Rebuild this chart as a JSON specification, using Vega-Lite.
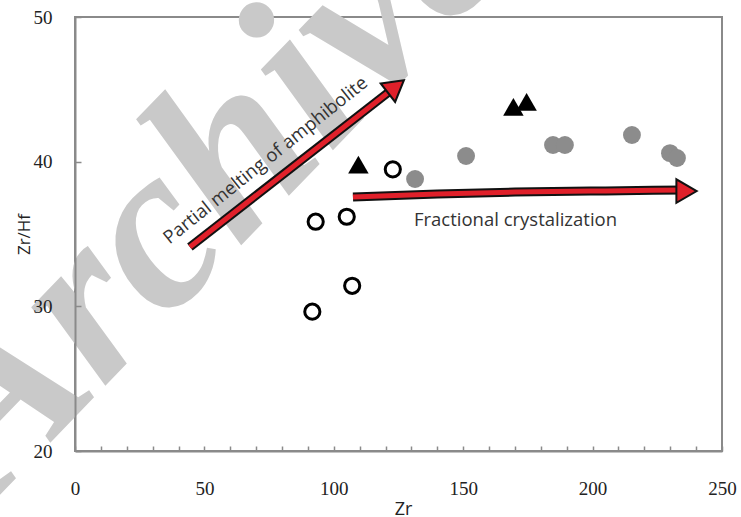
{
  "$schema": "https://vega.github.io/schema/vega-lite/v6.json",
  "autosize": {"type": "none"},
  "padding": {"left": 75, "top": 17, "right": 19, "bottom": 66},
  "width": 647,
  "height": 434,
  "background": "white",
  "config": {
    "view": {"stroke": "#8a8a8a", "strokeWidth": 2},
    "axis": {"grid": false}
  },
  "datasets": {
    "pts": [
      {"Zr": 93.0, "ZrHf": 35.85, "group": "open"},
      {"Zr": 105.0, "ZrHf": 36.19, "group": "open"},
      {"Zr": 107.1, "ZrHf": 31.42, "group": "open"},
      {"Zr": 91.7, "ZrHf": 29.63, "group": "open"},
      {"Zr": 122.8, "ZrHf": 39.47, "group": "open"},
      {"Zr": 109.5, "ZrHf": 39.8, "group": "tri"},
      {"Zr": 169.4, "ZrHf": 43.79, "group": "tri"},
      {"Zr": 174.5, "ZrHf": 44.14, "group": "tri"},
      {"Zr": 131.4, "ZrHf": 38.8, "group": "grey"},
      {"Zr": 151.1, "ZrHf": 40.39, "group": "grey"},
      {"Zr": 184.7, "ZrHf": 41.15, "group": "grey"},
      {"Zr": 189.3, "ZrHf": 41.15, "group": "grey"},
      {"Zr": 215.2, "ZrHf": 41.84, "group": "grey"},
      {"Zr": 229.9, "ZrHf": 40.59, "group": "grey"},
      {"Zr": 232.6, "ZrHf": 40.25, "group": "grey"}
    ],
    "shafts": [
      {"arrow": "melt", "Zr": 44.4, "ZrHf": 34.1, "o": 1},
      {"arrow": "melt", "Zr": 124.0, "ZrHf": 45.2, "o": 2},
      {"arrow": "frac", "Zr": 107.4, "ZrHf": 37.55, "o": 1},
      {"arrow": "frac", "Zr": 140.0, "ZrHf": 37.76, "o": 2},
      {"arrow": "frac", "Zr": 170.0, "ZrHf": 37.9, "o": 3},
      {"arrow": "frac", "Zr": 205.0, "ZrHf": 37.98, "o": 4},
      {"arrow": "frac", "Zr": 236.0, "ZrHf": 38.04, "o": 5}
    ],
    "heads": [
      {"arrow": "melt", "Zr": 124.0, "ZrHf": 45.2, "dir": -38},
      {"arrow": "frac", "Zr": 236.3, "ZrHf": 37.97, "dir": 0}
    ],
    "labels": [
      {"text": "Partial melting of amphibolite", "Zr": 73.6, "ZrHf": 40.1, "rot": -38.7},
      {"text": "Fractional crystalization", "Zr": 170.2, "ZrHf": 35.96, "rot": 0}
    ],
    "mark": [
      {"text": "Archive", "Zr": 50.2, "ZrHf": 38.7}
    ]
  },
  "encoding": {
    "x": {
      "field": "Zr", "type": "quantitative",
      "scale": {"domain": [0, 250], "nice": false, "zero": false},
      "axis": {
        "title": "Zr", "zindex": 1,
        "values": [0,10,20,30,40,50,60,70,80,90,100,110,120,130,140,150,160,170,180,190,200,210,220,230,240,250],
        "labelExpr": "datum.value % 50 === 0 ? datum.label : ''",
        "labelFont": "Liberation Serif, Times New Roman, serif", "labelFontSize": 19, "labelColor": "#222",
        "labelPadding": 33, "labelOverlap": false, "labelFlush": false,
        "tickSize": -5, "tickColor": "#8a8a8a", "tickWidth": 1.5,
        "domainColor": "#8a8a8a", "domainWidth": 2,
        "titleFont": "Open Sans", "titleFontSize": 18, "titleFontWeight": "normal", "titleColor": "#222",
        "titleX": 328, "titleY": 63, "titleBaseline": "alphabetic", "titleAlign": "center"
      }
    },
    "y": {
      "field": "ZrHf", "type": "quantitative",
      "scale": {"domain": [20, 50], "nice": false, "zero": false},
      "axis": {
        "title": "Zr/Hf", "zindex": 1,
        "values": [20, 30, 40, 50],
        "labelFont": "Liberation Serif, Times New Roman, serif", "labelFontSize": 19, "labelColor": "#222",
        "labelPadding": 29,
        "tickSize": -6, "tickColor": "#8a8a8a", "tickWidth": 1.5,
        "domainColor": "#8a8a8a", "domainWidth": 2,
        "titleFont": "Open Sans", "titleFontSize": 17, "titleFontWeight": "normal", "titleColor": "#222",
        "titleX": -51, "titleY": 217, "titleAngle": -90, "titleAlign": "center", "titleBaseline": "middle"
      }
    }
  },
  "layer": [
    {
      "data": {"name": "mark"},
      "mark": {"type": "text", "font": "Liberation Serif", "fontStyle": "italic", "fontWeight": "bold", "fontSize": 235, "angle": -46, "align": "center", "baseline": "middle", "color": "#c9c9c9"},
      "encoding": {"text": {"field": "text"}}
    },
    {
      "data": {"name": "shafts"},
      "mark": {"type": "line", "color": "#111", "strokeWidth": 9, "interpolate": "monotone", "strokeCap": "butt"},
      "encoding": {"detail": {"field": "arrow"}, "order": {"field": "o"}}
    },
    {
      "data": {"name": "shafts"},
      "mark": {"type": "line", "color": "#e0202a", "strokeWidth": 5, "interpolate": "monotone", "strokeCap": "butt"},
      "encoding": {"detail": {"field": "arrow"}, "order": {"field": "o"}}
    },
    {
      "data": {"name": "heads"},
      "mark": {"type": "point", "shape": "triangle-right", "filled": true, "fill": "#e0202a", "stroke": "#111", "strokeWidth": 2, "size": 550, "opacity": 1},
      "encoding": {"angle": {"field": "dir", "type": "quantitative", "scale": null}}
    },
    {
      "data": {"name": "labels"},
      "mark": {"type": "text", "font": "Open Sans", "fontSize": 18.5, "color": "#333", "align": "center", "baseline": "middle"},
      "encoding": {"text": {"field": "text"}, "angle": {"field": "rot", "type": "quantitative", "scale": null}}
    },
    {
      "data": {"name": "pts"},
      "transform": [{"filter": "datum.group === 'grey'"}],
      "mark": {"type": "point", "shape": "circle", "filled": true, "color": "#8c8c8c", "size": 320, "opacity": 1}
    },
    {
      "data": {"name": "pts"},
      "transform": [{"filter": "datum.group === 'open'"}],
      "mark": {"type": "point", "shape": "circle", "filled": false, "fill": "white", "stroke": "#000", "strokeWidth": 3, "size": 230, "opacity": 1}
    },
    {
      "data": {"name": "pts"},
      "transform": [{"filter": "datum.group === 'tri'"}],
      "mark": {"type": "point", "shape": "triangle-up", "filled": true, "color": "#000", "size": 420, "opacity": 1}
    }
  ]
}
